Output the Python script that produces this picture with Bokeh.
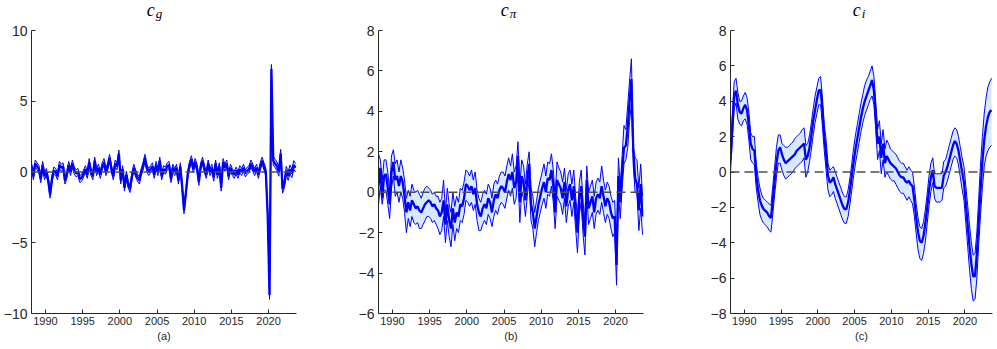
import numpy as np
from bokeh.plotting import figure
from bokeh.layouts import row, column
from bokeh.models import Range1d, FixedTicker, Span, Div
from bokeh.embed import file_html
from bokeh.resources import INLINE

# quarterly observations, first one at 1988.125
START = 1988.125
STEP = 0.25
X_TICKS = [1990, 1995, 2000, 2005, 2010, 2015, 2020]

# ---------------- panel (a): c_g ----------------
cg_med = [
    0.4, -0.3, 0.6,
    0.4, 0.2, -0.5, 0.5,
    -0.3, 0.0, -0.6, -1.6,
    -0.5, 0.1, 0.0, -0.3,
    0.5, 0.3, 0.4, -0.6,
    -0.2, 0.5, 0.0, 0.6,
    0.1, -0.1, 0.0, -0.5,
    -0.4, -0.1, 0.2, -0.2,
    0.7, 0.0, -0.3, 0.8,
    0.0, 0.3, -0.2, 0.4,
    0.7, 0.0, 0.4, 1.0,
    0.2, -0.3, 0.6, 0.4,
    1.3, -0.6, 0.2, -1.1,
    -0.2, -0.9, -1.2, -0.3,
    0.3, -0.1, -0.4, -0.6,
    0.0, 0.4, 1.0, 0.3,
    0.0, 0.2, 0.4, -0.2,
    0.5, 0.0, 0.8, -0.3,
    0.2, 0.1, 0.4, 0.5,
    -0.5, 0.3, 0.0, 0.3,
    -0.6, 0.4, -1.0, -2.7,
    -1.5, -0.2, 0.5, 0.9,
    0.2, 0.7, 0.3, -0.7,
    0.4, 0.8, 0.2, -0.2,
    0.6, 0.0, 0.3, -0.4,
    0.6, -0.2, 0.4, -1.1,
    0.7, 0.3, 0.6, -0.3,
    0.3, 0.0, -0.2, 0.1,
    -0.2, 0.2, 0.0, 0.3,
    -0.1, 0.1, 0.2, 0.6,
    0.3, 0.0, 0.3, -0.2,
    0.4, 0.8, 0.4, 0.0,
    -3.0, -8.7, 7.3, 0.8,
    0.6, 0.4, 0.0, 1.3,
    -1.2, -0.8, 0.1, -0.3,
    0.2, -0.1, 0.5, 0.3,
]
cg_lo = [
    0.15, -0.55, 0.35,
    0.15, -0.05, -0.75, 0.25,
    -0.55, -0.25, -0.85, -1.85,
    -0.75, -0.15, -0.25, -0.55,
    0.25, 0.05, 0.15, -0.85,
    -0.45, 0.25, -0.25, 0.35,
    -0.15, -0.35, -0.25, -0.75,
    -0.65, -0.35, -0.05, -0.45,
    0.45, -0.25, -0.55, 0.55,
    -0.25, 0.05, -0.45, 0.15,
    0.45, -0.25, 0.15, 0.75,
    -0.05, -0.55, 0.35, 0.15,
    1.05, -0.85, -0.05, -1.35,
    -0.45, -1.15, -1.45, -0.55,
    0.05, -0.35, -0.65, -0.85,
    -0.25, 0.15, 0.75, 0.05,
    -0.25, -0.05, 0.15, -0.45,
    0.25, -0.25, 0.55, -0.55,
    -0.05, -0.15, 0.15, 0.25,
    -0.75, 0.05, -0.25, 0.05,
    -0.85, 0.15, -1.25, -2.95,
    -1.75, -0.45, 0.25, 0.65,
    -0.05, 0.45, 0.05, -0.95,
    0.15, 0.55, -0.05, -0.45,
    0.35, -0.25, 0.05, -0.65,
    0.35, -0.45, 0.15, -1.35,
    0.45, 0.05, 0.35, -0.55,
    0.05, -0.25, -0.45, -0.15,
    -0.45, -0.05, -0.25, 0.05,
    -0.35, -0.15, -0.05, 0.35,
    0.05, -0.25, 0.05, -0.45,
    0.15, 0.55, 0.15, -0.25,
    -3.3, -9.0, 7.0, 0.5,
    0.3, 0.1, -0.3, 1.0,
    -1.5, -1.1, -0.2, -0.6,
    -0.1, -0.4, 0.2, 0.0,
]
cg_up = [
    0.65, -0.05, 0.85,
    0.65, 0.45, -0.25, 0.75,
    -0.05, 0.25, -0.35, -1.35,
    -0.25, 0.35, 0.25, -0.05,
    0.75, 0.55, 0.65, -0.35,
    0.05, 0.75, 0.25, 0.85,
    0.35, 0.15, 0.25, -0.25,
    -0.15, 0.15, 0.45, 0.05,
    0.95, 0.25, -0.05, 1.05,
    0.25, 0.55, 0.05, 0.65,
    0.95, 0.25, 0.65, 1.25,
    0.45, -0.05, 0.85, 0.65,
    1.55, -0.35, 0.45, -0.85,
    0.05, -0.65, -0.95, -0.05,
    0.55, 0.15, -0.15, -0.35,
    0.25, 0.65, 1.25, 0.55,
    0.25, 0.45, 0.65, 0.05,
    0.75, 0.25, 1.05, -0.05,
    0.45, 0.35, 0.65, 0.75,
    -0.25, 0.55, 0.25, 0.55,
    -0.35, 0.65, -0.75, -2.45,
    -1.25, 0.05, 0.75, 1.15,
    0.45, 0.95, 0.55, -0.45,
    0.65, 1.05, 0.45, 0.05,
    0.85, 0.25, 0.55, -0.15,
    0.85, 0.05, 0.65, -0.85,
    0.95, 0.55, 0.85, -0.05,
    0.55, 0.25, 0.05, 0.35,
    0.05, 0.45, 0.25, 0.55,
    0.15, 0.35, 0.45, 0.85,
    0.55, 0.25, 0.55, 0.05,
    0.65, 1.05, 0.65, 0.25,
    -2.7, -8.4, 7.6, 1.1,
    0.9, 0.7, 0.3, 1.6,
    -0.9, -0.5, 0.4, 0.0,
    0.5, 0.2, 0.8, 0.6,
]

# ---------------- panel (b): c_pi ----------------
cpi_med = [
    0.3, 1.2, -0.3,
    0.8, 0.9, 0.2, -0.6,
    1.0, 1.5, 0.6, 0.8,
    0.3, 0.8, 0.5, -0.2,
    -1.0, -0.5, -0.9, -0.4,
    -0.6, -0.8, -0.7, -0.9,
    -1.0, -0.8, -0.6, -0.5,
    -0.4, -0.5, -0.7, -0.6,
    -0.8, -0.9, -1.2, -1.0,
    -0.4, -1.6, -0.6, -1.4,
    -1.8, -0.8, -1.5, -1.0,
    -1.2, -0.6, -0.7, -0.3,
    0.4, 0.3, 0.1, 0.3,
    -0.1, 0.2, -0.6, -1.0,
    -1.2, -0.8, -0.6, -0.8,
    -0.3, -0.5, -1.0, -0.4,
    -0.1, -0.3, 0.1, 0.3,
    0.2, 0.0, 0.5, 0.9,
    0.6, 1.0, 0.2, 0.5,
    1.8, -0.5, 0.8, 0.5,
    -0.4, 0.6, 1.4, -0.6,
    -1.0, -1.8, -1.2, -0.6,
    -0.2, 0.2, 0.5, 0.0,
    0.7, 0.6, 1.1, 0.3,
    -1.0, 0.6, 0.4, 0.2,
    -0.3, 0.5, -0.7, 0.1,
    0.4, -0.4, 0.3, -1.0,
    -2.0, -0.3, 0.3, -1.3,
    -2.2, 0.6, -0.8, -0.5,
    -0.2, -1.0, -0.3, -0.1,
    -0.3, 0.3, -0.2, -0.7,
    -0.3, -0.5, -1.0, -1.3,
    -1.2, -3.6, 0.8, -0.5,
    1.0, 2.2, 2.3, 3.2,
    4.5, 5.6, 2.1, 0.7,
    0.4, -0.9, 0.4, -1.2,
]
cpi_lo = [
    -0.6, 0.3, -0.6,
    0.1, 0.1, -0.6, -1.3,
    0.2, 0.8, -0.2, 0.0,
    -0.5, 0.0, -0.3, -1.0,
    -2.0, -1.3, -1.7, -1.2,
    -1.5, -1.6, -1.5, -1.8,
    -1.8, -1.6, -1.4, -1.2,
    -1.2, -1.3, -1.5, -1.4,
    -1.6, -1.8, -2.1, -1.9,
    -1.2, -2.5, -1.4, -2.2,
    -2.7, -1.6, -2.4, -1.8,
    -2.0, -1.4, -1.5, -1.1,
    -0.4, -0.5, -0.7, -0.5,
    -0.9, -0.6, -1.4, -1.9,
    -1.9, -1.6, -1.4, -1.6,
    -1.1, -1.3, -1.7, -1.2,
    -0.9, -1.1, -0.7, -0.5,
    -0.6, -0.8, -0.3, 0.1,
    -0.2, 0.2, -0.6, -0.3,
    1.0, -1.5, 0.0, -0.3,
    -1.2, -0.2, 0.6, -1.4,
    -1.8, -2.7, -2.0, -1.4,
    -1.0, -0.6, -0.3, -0.8,
    -0.1, -0.2, 0.3, -0.5,
    -1.8, -0.2, -0.4, -0.6,
    -1.1, -0.3, -1.5, -0.7,
    -0.4, -1.2, -0.5, -1.8,
    -3.0, -1.1, -0.5, -2.1,
    -3.1, -0.2, -1.6, -1.3,
    -1.0, -1.8, -1.1, -0.9,
    -1.1, -0.5, -1.0, -1.5,
    -1.1, -1.3, -1.8, -2.2,
    -2.0, -4.6, 0.0, -1.3,
    0.2, 1.4, 1.6, 2.2,
    3.5, 4.4, 1.3, 0.0,
    -0.1, -1.9, -0.8, -2.1,
]
cpi_up = [
    1.9, 1.6, 0.6,
    1.6, 1.6, 1.0, 0.1,
    1.8, 2.1, 1.4, 1.6,
    1.0, 1.6, 1.2, 0.6,
    -0.3, 0.1, -0.2, 0.4,
    0.1, 0.0, 0.1, -0.1,
    -0.3, 0.0, 0.2, 0.3,
    0.2, 0.1, -0.1, 0.0,
    -0.2, -0.2, -0.5, -0.3,
    0.6, -0.9, 0.2, -0.6,
    -1.0, 0.0, -0.7, -0.2,
    -0.5, 0.2, 0.1, 0.5,
    1.1, 1.0, 0.8, 1.1,
    0.6, 1.0, 0.1, -0.3,
    -0.5, -0.1, 0.1, -0.1,
    0.4, 0.2, -0.3, 0.4,
    0.6, 0.4, 0.8, 1.0,
    1.0, 0.8, 1.3, 1.7,
    1.3, 1.9, 1.0, 1.3,
    2.5, 0.3, 1.6, 1.3,
    0.4, 1.4, 2.0, 0.2,
    -0.2, -1.0, -0.4, 0.2,
    0.6, 1.0, 1.4, 0.8,
    1.5, 1.4, 1.9, 1.1,
    -0.2, 1.5, 1.2, 1.0,
    0.5, 1.2, 0.1, 0.9,
    1.1, 0.4, 1.1, -0.2,
    -1.2, 0.5, 1.1, -0.5,
    -1.4, 1.3, 0.0, 0.3,
    0.6, -0.2, 0.5, 0.7,
    0.5, 1.3, 0.6, 0.1,
    0.5, 0.3, -0.2, -0.5,
    -0.4, -2.8, 1.7, 0.3,
    1.8, 3.3, 3.1, 4.3,
    5.5, 6.6, 2.3, 1.7,
    1.6, 0.2, 1.4, -0.2,
]

# ---------------- panel (c): c_i ----------------
ci_med = [
    0.7, 2.5, 4.3,
    4.6, 3.8, 3.4, 3.3,
    3.6, 3.8, 3.5, 2.6,
    1.6, 1.3, 1.2, -0.2,
    -1.0, -1.6, -1.9, -2.1,
    -2.2, -2.3, -2.5, -2.6,
    -1.6, -0.5, 0.5, 1.2,
    1.4, 1.0, 0.7, 0.5,
    0.6, 0.7, 0.8, 0.9,
    1.0, 1.2, 1.3, 1.4,
    1.5, 1.6, 0.7, 0.9,
    1.4, 2.1, 2.9, 3.5,
    4.1, 4.6, 4.65, 3.5,
    2.0, 1.0, -0.2, -0.6,
    -0.5, -0.3, -0.7, -1.0,
    -1.3, -1.6, -1.9, -2.1,
    -2.1, -1.7, -1.0, -0.2,
    0.6, 1.3, 1.9, 2.5,
    3.1, 3.6, 4.0, 4.3,
    4.6, 4.9, 5.2, 4.6,
    3.2, 1.6, 2.0, 0.8,
    1.6, 0.5, 0.9, 0.7,
    0.5, 0.4, 0.3, 0.2,
    0.0, -0.2, -0.3, -0.3,
    -0.5, -0.6, -0.5, -0.7,
    -0.8, -1.6, -2.6, -3.4,
    -3.9, -4.0, -3.6, -2.9,
    -2.0, -1.0, -0.3, 0.1,
    -0.8, -0.9, -0.9, -0.9,
    -0.9, -0.2, 0.0, 0.3,
    0.7, 1.1, 1.5, 1.75,
    1.6, 1.2, 0.6, 0.0,
    -0.6, -1.8, -3.0, -4.2,
    -5.2, -5.9, -5.9, -4.6,
    -2.8, -1.0, 0.6, 1.8,
    2.6, 3.1, 3.4, 3.5,
]
ci_lo = [
    0.0, 1.8, 3.6,
    3.9, 3.0, 2.7, 2.6,
    2.9, 3.0, 2.7, 1.8,
    0.7, 0.5, 0.4, -0.9,
    -1.7, -2.4, -2.7, -2.9,
    -3.0, -3.1, -3.3, -3.4,
    -2.4, -1.3, -0.3, 0.5,
    0.5, 0.1, -0.2, -0.4,
    -0.3, -0.2, -0.1, 0.0,
    0.2, 0.3, 0.4, 0.5,
    0.6, 0.8, -0.3, 0.0,
    0.6, 1.3, 2.1, 2.8,
    3.3, 3.8, 3.8, 2.6,
    1.2, 0.1, -1.0, -1.4,
    -1.3, -1.1, -1.5, -1.8,
    -2.1, -2.4, -2.7, -2.9,
    -2.9, -2.5, -1.8, -1.0,
    -0.2, 0.5, 1.1, 1.7,
    2.3, 2.8, 3.2, 3.5,
    3.8, 4.1, 4.3, 3.8,
    2.4, 0.7, 1.2, -0.1,
    0.7, -0.3, 0.0, -0.2,
    -0.4, -0.5, -0.5, -0.7,
    -0.9, -1.1, -1.2, -1.2,
    -1.4, -1.6, -1.4, -1.6,
    -1.8, -2.5, -3.5, -4.4,
    -4.9, -5.0, -4.6, -3.9,
    -2.9, -1.9, -1.1, -0.6,
    -1.5, -1.7, -1.7, -1.7,
    -1.6, -0.9, -0.8, -0.5,
    -0.1, 0.3, 0.7, 0.9,
    0.8, 0.4, -0.3, -1.0,
    -1.6, -2.9, -4.2, -5.5,
    -6.6, -7.3, -7.2, -6.0,
    -4.1, -2.4, -0.9, 0.3,
    0.9, 1.2, 1.4, 1.5,
]
ci_up = [
    1.5, 3.3, 5.1,
    5.3, 4.5, 4.0, 4.0,
    4.3, 4.5, 4.2, 3.4,
    2.2, 2.0, 2.0, 0.5,
    -0.3, -0.9, -1.3, -1.5,
    -1.6, -1.7, -1.8, -1.9,
    -0.8, 0.3, 1.4, 2.1,
    2.1, 1.6, 1.5, 1.4,
    1.4, 1.5, 1.6, 1.7,
    1.9, 2.0, 2.1, 2.2,
    2.4, 2.5, 1.5, 1.6,
    2.1, 2.8, 3.6, 4.3,
    4.8, 5.3, 5.4, 4.2,
    2.7, 1.8, 0.5, 0.1,
    0.2, 0.3, 0.0, -0.3,
    -0.6, -0.9, -1.2, -1.4,
    -1.4, -1.0, -0.3, 0.5,
    1.4, 2.1, 2.7, 3.3,
    3.9, 4.4, 4.9, 5.2,
    5.4, 5.7, 6.0, 5.4,
    4.0, 2.4, 2.9, 1.6,
    2.4, 1.3, 1.8, 1.6,
    1.3, 1.2, 1.1, 1.0,
    0.8, 0.6, 0.5, 0.5,
    0.3, 0.1, 0.3, 0.1,
    0.0, -0.8, -1.8, -2.6,
    -3.1, -3.2, -2.8, -2.1,
    -1.2, -0.2, 0.5, 0.8,
    -0.1, -0.1, -0.1, -0.1,
    -0.1, 0.6, 0.7, 1.1,
    1.5, 1.9, 2.3, 2.5,
    2.4, 2.0, 1.4, 0.8,
    0.3, -0.8, -1.9, -3.0,
    -4.0, -4.7, -4.6, -3.4,
    -1.5, 0.5, 2.0, 3.3,
    4.2, 4.8, 5.1, 5.3,
]

BLUE = "#0000ff"
FILL = "#d6e9ff"
AX = "#262626"
FH = 283
TITLE_H = 21


def panel(med, lo, up, ylim, yticks, sub, tag, fw, bl, br, shift):
    t = START + STEP * np.arange(len(med))
    p = figure(frame_width=fw, frame_height=FH,
               x_range=Range1d(1988.125, 2023.75), y_range=Range1d(*ylim),
               output_backend="svg", toolbar_location=None,
               min_border_left=bl, min_border_right=br,
               min_border_top=9, min_border_bottom=32)
    p.outline_line_color = None
    p.grid.visible = False
    p.background_fill_color = "white"
    p.border_fill_color = "white"

    p.varea(x=t, y1=lo, y2=up, fill_color=FILL, fill_alpha=1.0)
    p.line(t, lo, line_color=BLUE, line_width=1)
    p.line(t, up, line_color=BLUE, line_width=1)
    p.line(t, med, line_color=BLUE, line_width=2.3)
    p.add_layout(Span(location=0, dimension="width", line_color="#4d4d4d",
                      line_dash="9 5", line_width=1.5))

    for ax in (p.xaxis[0], p.yaxis[0]):
        ax.axis_line_color = AX
        ax.major_tick_line_color = AX
        ax.major_tick_in = 4
        ax.major_tick_out = 0
        ax.minor_tick_line_color = None
        ax.major_label_text_color = AX
        ax.major_label_text_font = "Liberation Sans"
    p.xaxis.ticker = FixedTicker(ticks=X_TICKS)
    p.yaxis.ticker = FixedTicker(ticks=yticks)
    p.xaxis.major_label_text_font_size = "11px"
    p.yaxis.major_label_text_font_size = "14px"
    p.xaxis.major_label_standoff = 3
    p.yaxis.major_label_standoff = 4
    p.xaxis.axis_label = tag
    p.xaxis.axis_label_text_font = "Liberation Sans"
    p.xaxis.axis_label_text_font_style = "normal"
    p.xaxis.axis_label_text_font_size = "11px"
    p.xaxis.axis_label_text_color = AX
    p.xaxis.axis_label_standoff = 2

    title_html = (
        f'<div style="box-sizing:border-box; width:{shift + fw}px; height:{TITLE_H}px; '
        f'padding-left:{shift}px; padding-top:1px; text-align:center; '
        f'font-family:\'Liberation Serif\', serif; font-style:italic; font-weight:normal; '
        f'font-size:18px; line-height:18px; color:#000; white-space:nowrap;">'
        f'c<span style="font-size:13px; line-height:13px; position:relative; top:2px; margin-left:1px;">{sub}</span></div>'
    )
    title = Div(text=title_html, width=shift + fw, height=TITLE_H, margin=(0, 0, 0, 0))
    return column(title, p, spacing=0)


c1 = panel(cg_med, cg_lo, cg_up, (-10, 10), [-10, -5, 0, 5, 10], "g", "(a)", 265, 21, 59, 22)
c2 = panel(cpi_med, cpi_lo, cpi_up, (-6, 8), [-6, -4, -2, 0, 2, 4, 6, 8], "π", "(b)", 265, 21, 64, 21)
c3 = panel(ci_med, ci_lo, ci_up, (-8, 8), [-8, -6, -4, -2, 0, 2, 4, 6, 8], "i", "(c)", 262, 21, 2, 21)

layout = row(c1, c2, c3, spacing=0)
open("out.html", "w").write(file_html(layout, INLINE))
